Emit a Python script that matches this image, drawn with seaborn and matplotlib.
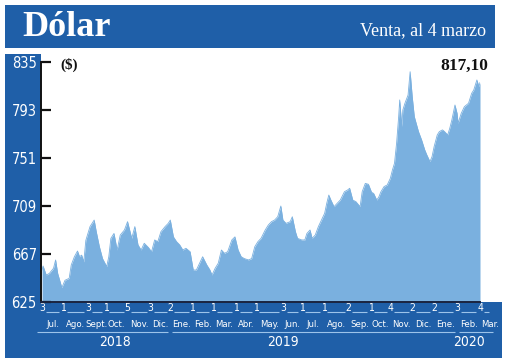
import matplotlib
matplotlib.use("Agg")
import matplotlib.pyplot as plt
import matplotlib.transforms as mtransforms
from matplotlib.patches import Rectangle
from matplotlib import font_manager as fm
import seaborn as sns
import pandas as pd

# ---------------- data ----------------
# trading-session index since 3 Jul 2018, and dollar "venta" value (CLP)
sesion = [0, 1, 4, 7, 11, 13, 15, 19, 22, 26,
          28, 31, 34, 36, 38, 40, 42, 46, 50, 52,
          55, 58, 62, 64, 66, 69, 72, 75, 79, 82,
          86, 89, 92, 95, 98, 102, 105, 108, 111, 114,
          118, 121, 123, 126, 129, 132, 135, 138, 142, 145,
          148, 151, 154, 158, 161, 163, 166, 169, 172, 175,
          178, 182, 185, 188, 191, 194, 198, 201, 204, 207,
          210, 214, 217, 220, 223, 226, 229, 231, 234, 238,
          240, 243, 245, 249, 252, 254, 257, 259, 262, 265,
          268, 271, 273, 275, 277, 280, 283, 286, 290, 293,
          295, 298, 301, 305, 307, 310, 313, 316, 318, 321,
          323, 325, 328, 331, 334, 336, 338, 340, 342, 343,
          345, 346, 348, 351, 353, 355, 357, 361, 364, 367,
          369, 372, 374, 376, 379, 381, 384, 386, 389, 391,
          393, 396, 398, 399, 402, 405, 409, 412, 414, 417,
          419, 420]
venta = [653, 656.5, 648.6, 650, 654.5, 661.8, 650, 637.5, 644, 645.7,
         657.4, 664.6, 669.6, 664.6, 666, 660, 679, 691, 696.7, 686.5,
         673.4, 663, 656, 664.6, 680.7, 685, 670.5, 683.6, 688, 695.3,
         680.7, 691, 675, 670.5, 676.4, 672.7, 669, 679.3, 677.8, 686.5,
         691, 693.8, 696.7, 682, 677.8, 675, 670.5, 672, 669, 653,
         653, 658.8, 664.6, 657.4, 653, 648.6, 654.5, 659, 670.5, 667.6,
         669, 679.3, 682, 670.5, 664.6, 663, 661.8, 663, 673.4, 677.8,
         680.7, 688, 692.4, 695.3, 696.7, 699.6, 709, 696.7, 693.8, 695.3,
         699.6, 686.5, 680.7, 679.3, 679.3, 685, 688, 680.7, 683.6, 691,
         696.7, 702.6, 711.3, 718.6, 714.2, 708.4, 711.3, 714.2, 721.5, 723,
         724.5, 714.2, 712.8, 708.4, 721.5, 728.8, 728, 721, 720, 714.2,
         717, 721.5, 726, 727.4, 733.2, 740.5, 746.4, 763.9, 787.2, 801.8,
         778.5, 793, 798.9, 806.1, 826.5, 804.7, 787.2, 774.1, 766.8, 758.1,
         753.7, 747.8, 752.2, 761, 771.2, 774.1, 775.6, 774.1, 771.2, 777,
         784.3, 797.4, 790.1, 781.4, 790.1, 795.9, 798.9, 807.6, 810.5, 819.3,
         813.4, 817.1]

y_ticks = [625, 667, 709, 751, 793, 835]
month_start = [0, 20, 44, 61, 82, 104, 123, 144, 164, 186, 205,
               231, 249, 270, 294, 315, 334, 355, 376, 398, 420]
day_labels = ["3", "1", "3", "1", "5", "3", "2", "1", "1", "1", "1",
              "3", "1", "1", "2", "1", "4", "2", "2", "3", "4"]
month_labels = ["Jul.", "Ago.", "Sept.", "Oct.", "Nov.", "Dic.", "Ene.",
                "Feb.", "Mar.", "Abr.", "May.", "Jun.", "Jul.", "Ago.",
                "Sep.", "Oct.", "Nov.", "Dic.", "Ene.", "Feb.", "Mar."]
years = ["2018", "2019", "2020"]
last_label = "817,10"

df = pd.DataFrame({"sesion": sesion, "venta": venta})

# ---------------- fonts ----------------
_entries = [(f.name, f.stretch) for f in fm.fontManager.ttflist]
_names = {n for n, s in _entries}
if "Liberation Sans Narrow" in _names:
    COND = dict(family="Liberation Sans Narrow")
elif any(n == "DejaVu Sans" and str(s).startswith("condensed") for n, s in _entries):
    COND = dict(family="DejaVu Sans", stretch="condensed")
elif "Liberation Sans" in _names:
    COND = dict(family="Liberation Sans")
else:
    COND = dict(family="DejaVu Sans")
SERIF = "Liberation Serif" if "Liberation Serif" in _names else "DejaVu Serif"

# ---------------- figure ----------------
W, H = 520, 362
BLUE = "#1f5fa8"
FILL = "#7ab0df"

fig = plt.figure(figsize=(W / 100, H / 100), dpi=100)
fig.patch.set_facecolor("white")

def fx(px):
    return px / W

def fy(py):
    return 1 - py / H

def band(x0, y0, x1, y1):
    fig.patches.append(Rectangle((fx(x0), fy(y1)), (x1 - x0) / W, (y1 - y0) / H,
                                 transform=fig.transFigure, facecolor=BLUE,
                                 edgecolor="none", zorder=-5))

band(5, 5, 495, 48)      # header
band(5, 54, 41, 302)     # left panel
band(5, 302, 502, 358)   # bottom band

fig.text(fx(22), fy(28), "Dólar", color="white", fontsize=26, fontweight="bold",
         family=SERIF, ha="left", va="center")
fig.text(fx(486), fy(31), "Venta, al 4 marzo", color="white", fontsize=13,
         family=SERIF, ha="right", va="center")

ax = fig.add_axes([fx(41), fy(302), (480 - 41) / W, (302 - 62) / H])
ax.set_facecolor("white")

sns.lineplot(data=df, x="sesion", y="venta", ax=ax, color=FILL, lw=0.6,
             estimator=None)
ax.fill_between(df["sesion"], df["venta"], 625, color=FILL, lw=0)

ax.set_xlim(-1, 420)
ax.set_ylim(625, 835)
ax.set_xlabel("")
ax.set_ylabel("")

ax.set_yticks(y_ticks)
ax.set_yticklabels([str(v) for v in y_ticks])
ax.tick_params(axis="y", direction="in", length=7.5, width=1.6, color="#111111",
               labelcolor="white", labelsize=10.5, pad=3)
for lbl in ax.get_yticklabels():
    lbl.set(**COND)

ax.set_xticks(month_start)
ax.set_xticklabels(day_labels)
ax.tick_params(axis="x", length=0, labelcolor="white", labelsize=7.5, pad=1)
for lbl in ax.get_xticklabels():
    lbl.set(**COND)

for side in ("top", "right"):
    ax.spines[side].set_visible(False)
ax.spines["left"].set_color("#111111")
ax.spines["left"].set_linewidth(1.4)
ax.spines["bottom"].set_color("#1a2440")
ax.spines["bottom"].set_linewidth(1.4)
ax.grid(False)

trans = mtransforms.blended_transform_factory(ax.transData, ax.transAxes)
LINE = "#9cc3ea"

# short segments between the day numbers
ends = month_start + [432]
for a, b in zip(ends[:-1], ends[1:]):
    ax.plot([a + 3.5, b - 3.5], [-0.043, -0.043], transform=trans, color=LINE,
            lw=0.8, clip_on=False, solid_capstyle="butt")

# month names centred between month starts
centres = [(a + b) / 2 for a, b in zip(month_start[:-1], month_start[1:])] + [430]
for c, m in zip(centres, month_labels):
    ax.text(c, -0.092, m, transform=trans, color="white", fontsize=6.8,
            ha="center", va="center", clip_on=False, **COND)

# year lines and labels
year_spans = [(-5, 121), (125, 396), (400, 432)]
year_pos = [70, 231, 409]
for (a, b), p, yr in zip(year_spans, year_pos, years):
    ax.plot([a, b], [-0.125, -0.125], transform=trans, color=LINE, lw=0.8,
            clip_on=False, solid_capstyle="butt")
    ax.text(p, -0.167, yr, transform=trans, color="white", fontsize=10,
            ha="center", va="center", clip_on=False, **COND)

fig.text(fx(60), fy(65), "($)", color="#111111", fontsize=11, fontweight="bold",
         family=SERIF, ha="left", va="center")
fig.text(fx(488), fy(66), last_label, color="#111111", fontsize=12.5,
         fontweight="bold", family=SERIF, ha="right", va="center")

fig.savefig("out.png", dpi=100)
